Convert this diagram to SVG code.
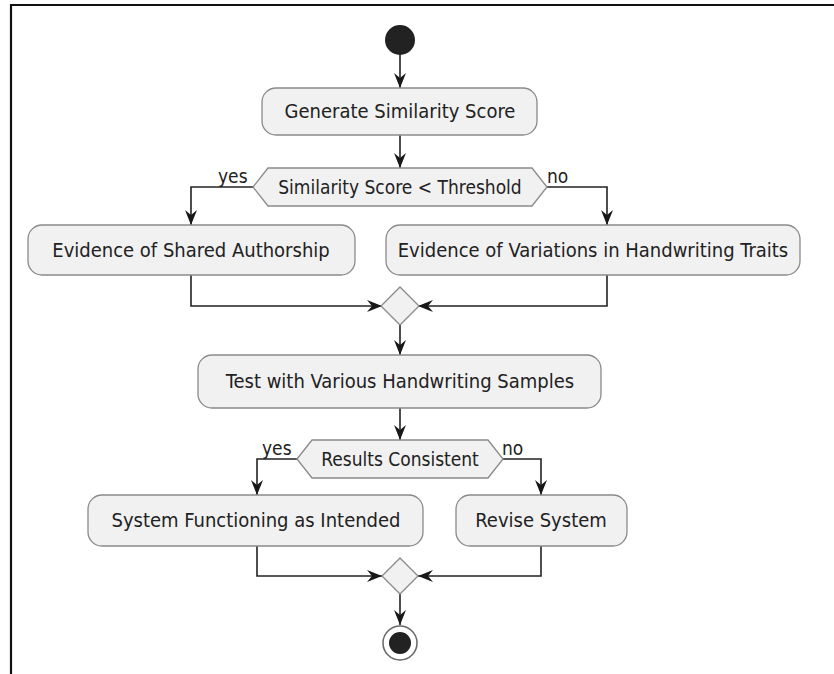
<svg xmlns="http://www.w3.org/2000/svg" width="834" height="674" viewBox="0 0 834 674">
<defs>
<marker id="ah" viewBox="0 0 16 12" refX="15" refY="6" markerWidth="16" markerHeight="12" markerUnits="userSpaceOnUse" orient="auto">
<path d="M0,0 L15,6 L0,12 L5,6 Z" fill="#181818"/>
</marker>
</defs>
<style>
.box{fill:#F1F1F1;stroke:#8a8a8a;stroke-width:1.3}
.t{font-family:"DejaVu Sans Condensed","DejaVu Sans",sans-serif;font-stretch:condensed;font-size:20px;fill:#222;text-anchor:middle}
.ts{font-family:"DejaVu Sans Condensed","DejaVu Sans",sans-serif;font-stretch:condensed;font-size:19px;fill:#222;text-anchor:middle}
.lb{font-family:"DejaVu Sans Condensed","DejaVu Sans",sans-serif;font-stretch:condensed;font-size:19px;fill:#222}
.ln{fill:none;stroke:#222;stroke-width:1.6}
</style>
<rect width="834" height="674" fill="#fff"/>
<path d="M11,674 V5 H834" fill="none" stroke="#111" stroke-width="2.2"/>
<g id="connectors">
<path class="ln" d="M400,54 V88" marker-end="url(#ah)"/>
<path class="ln" d="M400,135 V168" marker-end="url(#ah)"/>
<path class="ln" d="M253,187 H191 V225" marker-end="url(#ah)"/>
<path class="ln" d="M547,187 H607 V225" marker-end="url(#ah)"/>
<path class="ln" d="M191,275 V306 H382" marker-end="url(#ah)"/>
<path class="ln" d="M607,275 V306 H418" marker-end="url(#ah)"/>
<path class="ln" d="M400,324 V355" marker-end="url(#ah)"/>
<path class="ln" d="M400,408 V440" marker-end="url(#ah)"/>
<path class="ln" d="M297,459 H257 V495" marker-end="url(#ah)"/>
<path class="ln" d="M503,459 H541 V495" marker-end="url(#ah)"/>
<path class="ln" d="M257,546 V576 H382" marker-end="url(#ah)"/>
<path class="ln" d="M541,546 V576 H418" marker-end="url(#ah)"/>
<path class="ln" d="M400,594 V625" marker-end="url(#ah)"/>
<text class="lb" x="218" y="183">yes</text>
<text class="lb" x="547" y="183">no</text>
<text class="lb" x="262" y="455">yes</text>
<text class="lb" x="502" y="455">no</text>
</g>
<g id="start"><circle cx="400" cy="40" r="15" fill="#222"/></g>
<g id="generate"><rect class="box" x="262" y="88" width="275" height="47" rx="14"/><text class="t" x="400" y="118">Generate Similarity Score</text></g>
<g id="decision1"><polygon class="box" points="253,187 268,168 532,168 547,187 532,206 268,206"/><text class="ts" x="400" y="194">Similarity Score &lt; Threshold</text></g>
<g id="shared"><rect class="box" x="28" y="225" width="327" height="50" rx="14"/><text class="t" x="191" y="257">Evidence of Shared Authorship</text></g>
<g id="variations"><rect class="box" x="386" y="225" width="414" height="50" rx="14"/><text class="t" x="593" y="257">Evidence of Variations in Handwriting Traits</text></g>
<g id="merge1"><polygon class="box" points="400,287 419,306 400,325 381,306"/></g>
<g id="test"><rect class="box" x="198" y="355" width="403" height="53" rx="14"/><text class="t" x="400" y="388">Test with Various Handwriting Samples</text></g>
<g id="decision2"><polygon class="box" points="297,459 312,440 488,440 503,459 488,478 312,478"/><text class="ts" x="400" y="466">Results Consistent</text></g>
<g id="functioning"><rect class="box" x="88" y="495" width="335" height="51" rx="14"/><text class="t" x="256" y="527">System Functioning as Intended</text></g>
<g id="revise"><rect class="box" x="456" y="495" width="171" height="51" rx="14"/><text class="t" x="541" y="527">Revise System</text></g>
<g id="merge2"><polygon class="box" points="400,558 418,576 400,594 382,576"/></g>
<g id="end"><circle cx="400" cy="643" r="17" fill="#fff" stroke="#666" stroke-width="1.5"/><circle cx="400" cy="643" r="11" fill="#222"/></g>
</svg>
